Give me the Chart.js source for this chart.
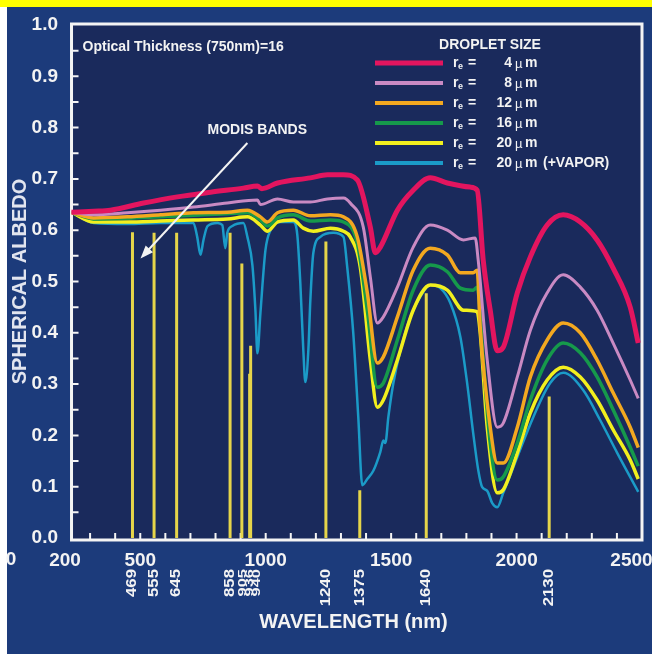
<!DOCTYPE html>
<html>
<head>
<meta charset="utf-8">
<script src="https://cdn.jsdelivr.net/npm/chart.js@4.4.1/dist/chart.umd.min.js"></script>
<style>
  html, body { margin: 0; padding: 0; background: #1c3b7b; overflow: hidden; }
  #wrap { width: 652px; height: 654px; }
</style>
</head>
<body>
<div id="wrap"><canvas id="albedo" width="652" height="654"></canvas></div>
<script>
// ========== Data ==========
const xTicks = [200, 500, 1000, 1500, 2000, 2500];
const frameStartNm = 226;

// r_e = 4 um
const wl4  = [226, 314, 381, 513, 648, 780, 911, 967, 985, 1047, 1178, 1246, 1310, 1365, 1417, 1437, 1457, 1525, 1588, 1656, 1724, 1815, 1843, 1867, 1895, 1923, 1947, 2003, 2055, 2122, 2186, 2254, 2321, 2385, 2453, 2485];
const alb4 = [.635, .637, .639, .653, .665, .674, .682, .686, .681, .692, .702, .708, .708, .698, .606, .556, .567, .639, .678, .702, .692, .684, .678, .542, .444, .365, .372, .478, .548, .610, .630, .616, .581, .526, .450, .380];
// r_e = 8 um
const wl8  = [226, 314, 449, 581, 712, 847, 967, 979, 1047, 1110, 1178, 1246, 1310, 1337, 1389, 1417, 1445, 1469, 1525, 1588, 1656, 1724, 1788, 1835, 1847, 1883, 1923, 1947, 2003, 2055, 2122, 2186, 2254, 2321, 2385, 2453, 2485];
const alb8 = [.635, .630, .634, .639, .645, .653, .659, .650, .661, .655, .655, .661, .663, .653, .606, .509, .419, .431, .489, .567, .610, .600, .581, .585, .542, .347, .216, .224, .314, .405, .478, .513, .489, .444, .380, .308, .272];
// r_e = 12 um
const wl12  = [226, 314, 449, 581, 712, 847, 927, 979, 1007, 1047, 1110, 1178, 1258, 1310, 1365, 1405, 1445, 1469, 1525, 1588, 1656, 1724, 1776, 1827, 1843, 1855, 1895, 1923, 1947, 2003, 2055, 2122, 2186, 2254, 2321, 2385, 2453, 2485];
const alb12 = [.635, .624, .626, .630, .634, .635, .639, .626, .616, .634, .639, .628, .630, .626, .587, .478, .341, .353, .431, .522, .565, .552, .517, .517, .522, .411, .216, .146, .146, .216, .314, .386, .419, .400, .347, .283, .216, .176];
// r_e = 16 um
const wl16  = [226, 314, 581, 847, 927, 979, 1007, 1047, 1110, 1178, 1258, 1310, 1365, 1405, 1445, 1469, 1525, 1588, 1656, 1724, 1776, 1827, 1843, 1867, 1895, 1923, 1947, 2003, 2055, 2122, 2186, 2254, 2321, 2385, 2453, 2485];
const alb16 = [.635, .622, .626, .632, .634, .620, .608, .624, .630, .618, .620, .616, .575, .444, .294, .302, .386, .483, .532, .519, .487, .483, .489, .347, .185, .113, .119, .185, .269, .347, .380, .361, .314, .250, .177, .140];
// r_e = 20 um
const wl20  = [226, 314, 449, 581, 712, 847, 927, 979, 1007, 1047, 1110, 1150, 1190, 1258, 1310, 1337, 1377, 1417, 1445, 1469, 1525, 1588, 1656, 1724, 1788, 1843, 1855, 1883, 1923, 1947, 2003, 2055, 2122, 2186, 2254, 2321, 2385, 2453, 2485];
const alb20 = [.635, .616, .616, .618, .620, .622, .626, .610, .598, .616, .620, .604, .598, .604, .598, .587, .528, .347, .255, .269, .347, .444, .493, .483, .444, .441, .400, .216, .088, .094, .166, .244, .308, .333, .314, .269, .211, .152, .115];
// r_e = 20 um with water vapor
const wlVap  = [226, 314, 449, 581, 712, 727, 740, 752, 768, 808, 827, 839, 847, 867, 911, 927, 947, 959, 967, 979, 999, 1019, 1059, 1110, 1126, 1138, 1150, 1158, 1170, 1178, 1190, 1218, 1270, 1310, 1325, 1349, 1369, 1385, 1405, 1429, 1457, 1469, 1477, 1489, 1509, 1537, 1577, 1616, 1656, 1696, 1736, 1776, 1803, 1827, 1847, 1863, 1883, 1903, 1923, 1947, 2003, 2067, 2134, 2186, 2266, 2333, 2401, 2485];
const albVap = [.635, .614, .612, .614, .614, .587, .552, .581, .608, .614, .610, .565, .595, .608, .614, .587, .532, .444, .360, .439, .561, .600, .616, .616, .591, .497, .366, .304, .366, .464, .556, .587, .595, .587, .528, .400, .236, .103, .115, .131, .168, .190, .185, .236, .302, .366, .431, .470, .493, .487, .458, .392, .302, .205, .133, .099, .092, .068, .060, .088, .158, .236, .302, .322, .288, .230, .166, .090];

// MODIS bands (nm) and how high each marker reaches
const bandNm  = [469, 555, 645, 858, 905, 936, 940, 1240, 1375, 1640, 2130];
const bandTop = [.596, .595, .595, .595, .535, .320, .375, .578, .093, .477, .276];

const FONT = '"Liberation Sans", Arial, Helvetica, sans-serif';
const INK = '#f3f3f3';

const series = [
  { size: '4',  wl: wl4,   alb: alb4,   color: '#e3155f', width: 5,   key: 5 },
  { size: '8',  wl: wl8,   alb: alb8,   color: '#c98ac3', width: 3,   key: 4 },
  { size: '12', wl: wl12,  alb: alb12,  color: '#f3a820', width: 3.5, key: 4 },
  { size: '16', wl: wl16,  alb: alb16,  color: '#16994b', width: 3.5, key: 4 },
  { size: '20', wl: wl20,  alb: alb20,  color: '#f2ef1e', width: 3.5, key: 4 },
  { size: '20', wl: wlVap, alb: albVap, color: '#1b9bc8', width: 2.5, key: 4, note: '(+VAPOR)' },
];

function pts(xs, ys) { return xs.map((x, i) => ({ x, y: ys[i] })); }

// ========== Decorations ==========
const decor = {
  id: 'decor',
  beforeDraw(chart) {
    const { ctx, width, height, chartArea: a, scales: { x, y } } = chart;
    ctx.save();
    ctx.fillStyle = '#1c3b7b';
    ctx.fillRect(0, 0, width, height);
    ctx.fillStyle = '#ffff00';
    ctx.fillRect(0, 0, width, 7);
    ctx.fillStyle = '#ffffff';
    ctx.fillRect(0, 7, 7, height - 7);
    const fl = x.getPixelForValue(frameStartNm), ft = y.getPixelForValue(1) - 1;
    const fb = y.getPixelForValue(0) + 2;
    ctx.fillStyle = '#1a2a5c';
    ctx.fillRect(fl, ft, a.right - fl, fb - ft);
    ctx.restore();
  },
  beforeDatasetsDraw(chart) {
    const { ctx, chartArea: a, scales: { x, y } } = chart;
    const fl = x.getPixelForValue(frameStartNm), ft = y.getPixelForValue(1) - 1;
    const fb = y.getPixelForValue(0) + 2;
    ctx.save();
    ctx.strokeStyle = '#f4f4f4';
    ctx.lineWidth = 2;
    ctx.beginPath();
    for (let i = 1; i < 20; i++) {
      const yy = y.getPixelForValue(i * 0.05);
      ctx.moveTo(fl, yy); ctx.lineTo(fl + 7, yy);
    }
    for (let nm = 300; nm < 2500; nm += 100) {
      const xx = x.getPixelForValue(nm);
      ctx.moveTo(xx, fb); ctx.lineTo(xx, fb - 7);
    }
    ctx.stroke();
    ctx.lineWidth = 3;
    ctx.strokeRect(fl, ft, a.right - fl, fb - ft);
    ctx.restore();
  },
  afterDatasetsDraw(chart) {
    const { ctx, chartArea: a, scales: { x, y } } = chart;
    ctx.save();
    ctx.fillStyle = INK;
    ctx.textBaseline = 'middle';

    // optical thickness note
    ctx.font = 'bold 14px ' + FONT;
    ctx.textAlign = 'left';
    ctx.fillText('Optical Thickness (750nm)=16', x.getPixelForValue(270), y.getPixelForValue(0.957));

    // MODIS bands label + arrow
    ctx.fillText('MODIS BANDS', x.getPixelForValue(768), y.getPixelForValue(0.795));
    const x0 = x.getPixelForValue(927), y0 = y.getPixelForValue(0.770);
    const x1 = x.getPixelForValue(501), y1 = y.getPixelForValue(0.545);
    const ang = Math.atan2(y1 - y0, x1 - x0);
    ctx.strokeStyle = INK;
    ctx.lineWidth = 2;
    ctx.beginPath();
    ctx.moveTo(x0, y0);
    ctx.lineTo(x1 - 8 * Math.cos(ang), y1 - 8 * Math.sin(ang));
    ctx.stroke();
    ctx.beginPath();
    ctx.moveTo(x1, y1);
    ctx.lineTo(x1 - 13 * Math.cos(ang) + 5 * Math.sin(ang), y1 - 13 * Math.sin(ang) - 5 * Math.cos(ang));
    ctx.lineTo(x1 - 13 * Math.cos(ang) - 5 * Math.sin(ang), y1 - 13 * Math.sin(ang) + 5 * Math.cos(ang));
    ctx.closePath();
    ctx.fill();

    // droplet size legend
    const lx = a.right - 267, ly = a.top + 38;
    ctx.textAlign = 'center';
    ctx.fillText('DROPLET SIZE', a.right - 152, a.top + 20);
    series.forEach((s, i) => {
      const yy = ly + i * 20;
      ctx.strokeStyle = s.color;
      ctx.lineWidth = s.key;
      ctx.beginPath();
      ctx.moveTo(lx, yy); ctx.lineTo(lx + 68, yy);
      ctx.stroke();
      ctx.textAlign = 'left';
      ctx.font = 'bold 14px ' + FONT;
      ctx.fillText('r', lx + 78, yy);
      ctx.font = 'bold 9px ' + FONT;
      ctx.fillText('e', lx + 83, yy + 4);
      ctx.font = 'bold 14px ' + FONT;
      ctx.fillText('=', lx + 93, yy);
      ctx.textAlign = 'right';
      ctx.fillText(s.size, lx + 137, yy);
      ctx.textAlign = 'left';
      ctx.font = '13px ' + FONT;
      ctx.fillText('\u00b5', lx + 140, yy + 1);
      ctx.font = 'bold 14px ' + FONT;
      ctx.fillText('m', lx + 150, yy);
      if (s.note) ctx.fillText(s.note, lx + 168, yy);
    });

    // band labels under the axis, reading upwards; crowded ones get a narrow font
    const pos = [];
    bandNm.forEach((nm, i) => {
      let bx = x.getPixelForValue(nm);
      if (i && bx - pos[i - 1] < 6.5) bx = pos[i - 1] + 6.5;
      pos.push(bx);
    });
    bandNm.forEach((nm, i) => {
      const gap = Math.min(i ? pos[i] - pos[i - 1] : 99, i < pos.length - 1 ? pos[i + 1] - pos[i] : 99);
      const tight = gap < 10;
      ctx.save();
      ctx.translate(pos[i] + (tight ? 1 : 0), 569);
      ctx.rotate(-Math.PI / 2);
      ctx.scale(tight ? 1.65 : 1.2, 1);
      ctx.textAlign = 'right';
      ctx.font = 'bold ' + (tight ? 10 : 14) + 'px ' + FONT;
      ctx.fillText(String(nm), 0, 0);
      ctx.restore();
    });

    // clipped leftover label at the far left
    ctx.font = 'bold 19px ' + FONT;
    ctx.textAlign = 'center';
    ctx.fillText('0', 11, 560);
    ctx.restore();
  }
};

// ========== Chart ==========
const datasets = [{
  label: 'MODIS bands',
  data: bandNm.flatMap((nm, i) => [{ x: nm, y: 0 }, { x: nm, y: bandTop[i] }, { x: nm, y: null }]),
  borderColor: '#e6d54a', borderWidth: 3, pointRadius: 0, spanGaps: false, tension: 0, order: 0,
}].concat(series.map((s, i) => ({
  label: 're = ' + s.size + ' um' + (s.note ? ' ' + s.note : ''),
  data: pts(s.wl, s.alb),
  borderColor: s.color, borderWidth: s.width, pointRadius: 0,
  cubicInterpolationMode: 'monotone', fill: false, order: i + 1,
})));

new Chart(document.getElementById('albedo'), {
  type: 'line',
  data: { datasets },
  options: {
    responsive: false, animation: false, devicePixelRatio: 1,
    layout: { padding: { top: 25, right: 10, left: 0, bottom: 0 }, autoPadding: false },
    plugins: { legend: { display: false }, tooltip: { enabled: false } },
    scales: {
      x: {
        type: 'linear', min: 200, max: 2500,
        afterBuildTicks: s => { s.ticks = xTicks.map(v => ({ value: v })); },
        afterFit: s => { s.height = 116; s.paddingLeft = 0; s.paddingRight = 0; },
        grid: { display: false, drawTicks: false }, border: { display: false },
        ticks: {
          color: INK, padding: 11, maxRotation: 0, autoSkip: false,
          font: { family: FONT, size: 19, weight: 'bold' },
          callback: v => v === 2500 ? '2500    ' : String(v),
        },
        title: { display: true, text: 'WAVELENGTH (nm)', color: INK, padding: { bottom: 20 },
                 font: { family: FONT, size: 20, weight: 'bold' } },
      },
      y: {
        min: 0, max: 1,
        afterFit: s => { s.width = 65; s.paddingTop = 0; s.paddingBottom = 0; },
        grid: { display: false, drawTicks: false }, border: { display: false },
        ticks: {
          stepSize: 0.1, color: INK, padding: 7,
          font: { family: FONT, size: 19, weight: 'bold' },
          callback: v => v.toFixed(1),
        },
        title: { display: true, text: 'SPHERICAL ALBEDO', color: '#e2e5ef', padding: { top: 8 },
                 font: { family: FONT, size: 20, weight: 'bold' } },
      },
    },
  },
  plugins: [decor],
});
</script>
</body>
</html>
